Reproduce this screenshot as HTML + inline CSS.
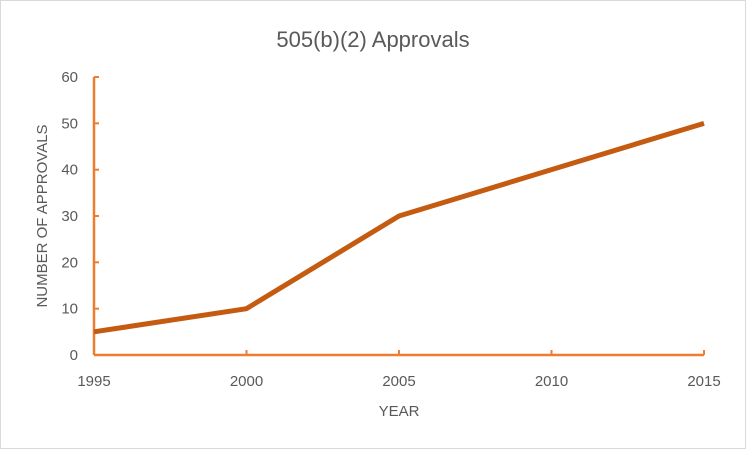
<!DOCTYPE html>
<html><head><meta charset="utf-8"><style>
body{margin:0;background:#fff;font-family:"Liberation Sans",sans-serif}
#c{position:absolute;left:0;top:0;width:744px;height:447px;border:1px solid #d9d9d9}
</style></head><body>
<div id="c">
<svg id="s" width="746" height="449" style="position:absolute;left:-1px;top:-1px"></svg>
</div>
<script>
const years=[1995,2000,2005,2010,2015];
const approvals=[5,10,30,40,50];
const yTicks=[0,10,20,30,40,50,60];
const xTicks=[1995,2000,2005,2010,2015];
const NS="http://www.w3.org/2000/svg";
const s=document.getElementById('s');
const x0=94,x1=704,y0=355,y1=77;
const xs=v=>x0+(v-1995)/(2015-1995)*(x1-x0);
const ys=v=>y0-(v/60)*(y0-y1);
function el(t,a,txt){const e=document.createElementNS(NS,t);for(const k in a)e.setAttribute(k,a[k]);if(txt!==undefined)e.textContent=txt;s.appendChild(e);return e;}
let t=el('text',{x:373,y:47,'text-anchor':'middle','font-size':22,fill:'#595959'},'505(b)(2) Approvals');

let ya=el('line',{x1:x0,y1:y1,x2:x0,y2:y0,stroke:'#ED7D31','stroke-width':2.5});

let xa=el('line',{x1:x0,y1:y0,x2:x1,y2:y0,stroke:'#ED7D31','stroke-width':2.5});

yTicks.forEach(v=>{
 let tk=el('line',{x1:x0,y1:ys(v),x2:x0+5,y2:ys(v),stroke:'#ED7D31','stroke-width':2});
 
 let l=el('text',{x:78,y:ys(v)+5,'text-anchor':'end','font-size':15,fill:'#595959'},v);
 
});
xTicks.forEach(v=>{
 let tk=el('line',{x1:xs(v),y1:y0,x2:xs(v),y2:y0-5,stroke:'#ED7D31','stroke-width':2});
 
 let l=el('text',{x:xs(v),y:386,'text-anchor':'middle','font-size':15,fill:'#595959'},v);
 
});
let xt=el('text',{x:399,y:416,'text-anchor':'middle','font-size':15,fill:'#595959'},'YEAR');

let yt=el('text',{x:0,y:0,'text-anchor':'middle','font-size':15,fill:'#595959',transform:'translate(47,216) rotate(-90)'},'NUMBER OF APPROVALS');

let pl=el('polyline',{points:years.map((y,i)=>xs(y)+','+ys(approvals[i])).join(' '),fill:'none',stroke:'#C55A11','stroke-width':5,'stroke-linejoin':'round'});

</script>
</body></html>
